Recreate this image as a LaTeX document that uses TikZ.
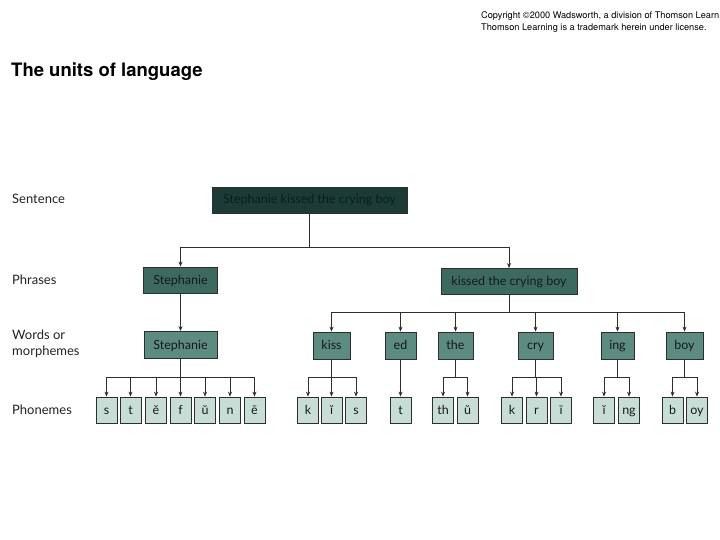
\documentclass[tikz,border=0pt]{standalone}
\usepackage{fontspec}
\setmainfont{Lato}
\newfontfamily\helv{TeX Gyre Heros}
\usetikzlibrary{arrows.meta}
\definecolor{sentfill}{HTML}{1D3B36}
\definecolor{senttext}{HTML}{0B1F1B}
\definecolor{phrfill}{HTML}{3C6A61}
\definecolor{wordfill}{HTML}{5C8B81}
\definecolor{phonfill}{HTML}{C7DED7}
\definecolor{linecol}{HTML}{2E2E2E}
\definecolor{labcol}{HTML}{222222}
\tikzset{
  box/.style={draw=linecol, line width=0.8pt, inner sep=0pt, text height=10pt, text depth=2pt,
    font=\fontsize{12.5}{14}\selectfont, text=black!90},
  sentbox/.style={box, fill=sentfill, text=senttext, minimum width=195pt, minimum height=26pt},
  phrbox/.style={box, fill=phrfill, minimum height=26pt},
  wordbox/.style={box, fill=wordfill, minimum height=27pt},
  phonbox/.style={box, fill=phonfill, minimum width=21pt, minimum height=26pt},
  conn/.style={draw=linecol, line width=0.7pt},
  arr/.style={conn, -{Stealth[length=5pt,width=4pt]}},
  lev/.style={anchor=west, inner sep=0pt, text=labcol, font=\fontsize{13}{15.5}\selectfont, align=left}
}
\begin{document}
\begin{tikzpicture}[x=1pt,y=-1pt]
\useasboundingbox (0,0) rectangle (720,540);
% header
\node[anchor=west, inner sep=0pt, font=\helv\fontsize{9.2}{11.5}\selectfont, align=left] (copy) at (481,22)
  {Copyright ©2000 Wadsworth, a division of Thomson Learn\\Thomson Learning is a trademark herein under license.};
\node[anchor=west, inner sep=0pt, font=\helv\bfseries\fontsize{18.5}{22}\selectfont] (title) at (11,72) {The units of language};
% level labels
\node[lev] (lsent) at (12,199) {Sentence};
\node[lev] (lphr) at (12,280) {Phrases};
\node[lev] (lword) at (12,344) {Words or\\morphemes};
\node[lev] (lphon) at (12,410) {Phonemes};
% sentence & phrases
\node[sentbox] (sent) at (309.5,200) {Stephanie kissed the crying boy};
\node[phrbox, minimum width=74pt] (ph1) at (180.5,280) {Stephanie};
\node[phrbox, minimum width=136pt] (ph2) at (509,281.5) {kissed the crying boy};
% words
\node[wordbox, minimum width=73pt] (w0) at (180.5,345) {Stephanie};
\node[wordbox, minimum width=37pt] (w1) at (331.5,345.5) {kiss};
\node[wordbox, minimum width=31pt] (w2) at (400.5,345.5) {ed};
\node[wordbox, minimum width=35pt] (w3) at (455.5,345.5) {the};
\node[wordbox, minimum width=35pt] (w4) at (535.5,345.5) {cry};
\node[wordbox, minimum width=33pt] (w5) at (617.5,345.5) {ing};
\node[wordbox, minimum width=37pt] (w6) at (684.5,345.5) {boy};
% phonemes
\node[phonbox] (a1) at (106.5,410) {s};
\node[phonbox] (a2) at (130.5,410) {t};
\node[phonbox] (a3) at (156,410) {ĕ};
\node[phonbox] (a4) at (180.5,410) {f};
\node[phonbox] (a5) at (205,410) {ŭ};
\node[phonbox] (a6) at (230,410) {n};
\node[phonbox] (a7) at (254.5,410) {ē};
\node[phonbox] (b1) at (308,410) {k};
\node[phonbox] (b2) at (331.5,410) {ĭ};
\node[phonbox] (b3) at (356,410) {s};
\node[phonbox] (c1) at (400.5,410) {t};
\node[phonbox] (d1) at (443,410) {th};
\node[phonbox] (d2) at (467.5,410) {ŭ};
\node[phonbox] (e1) at (512,410) {k};
\node[phonbox] (e2) at (536.5,410) {r};
\node[phonbox] (e3) at (561,410) {ī};
\node[phonbox] (f1) at (604,410) {ĭ};
\node[phonbox] (f2) at (629,410) {ng};
\node[phonbox] (g1) at (672.5,410) {b};
\node[phonbox] (g2) at (697,410) {oy};
% bar levels
\coordinate (barS) at (0,247);
\coordinate (barK) at (0,312);
\coordinate (barP) at (0,377);
% sentence -> phrases
\foreach \c in {ph1,ph2} \draw[arr] (sent.south) -- (sent.south |- barS) -| (\c.north);
% phrase -> words
\draw[arr] (ph1.south) -- (w0.north);
\foreach \c in {w1,w2,w3,w4,w5,w6} \draw[arr] (ph2.south) -- (ph2.south |- barK) -| (\c.north);
% words -> phonemes
\foreach \c in {a1,a2,a3,a4,a5,a6,a7} \draw[arr] (w0.south) -- (w0.south |- barP) -| (\c.north);
\foreach \c in {b1,b2,b3} \draw[arr] (w1.south) -- (w1.south |- barP) -| (\c.north);
\draw[arr] (w2.south) -- (c1.north);
\foreach \c in {d1,d2} \draw[arr] (w3.south) -- (w3.south |- barP) -| (\c.north);
\foreach \c in {e1,e2,e3} \draw[arr] (w4.south) -- (w4.south |- barP) -| (\c.north);
\foreach \c in {f1,f2} \draw[arr] (w5.south) -- (w5.south |- barP) -| (\c.north);
\foreach \c in {g1,g2} \draw[arr] (w6.south) -- (w6.south |- barP) -| (\c.north);
\end{tikzpicture}
\end{document}
